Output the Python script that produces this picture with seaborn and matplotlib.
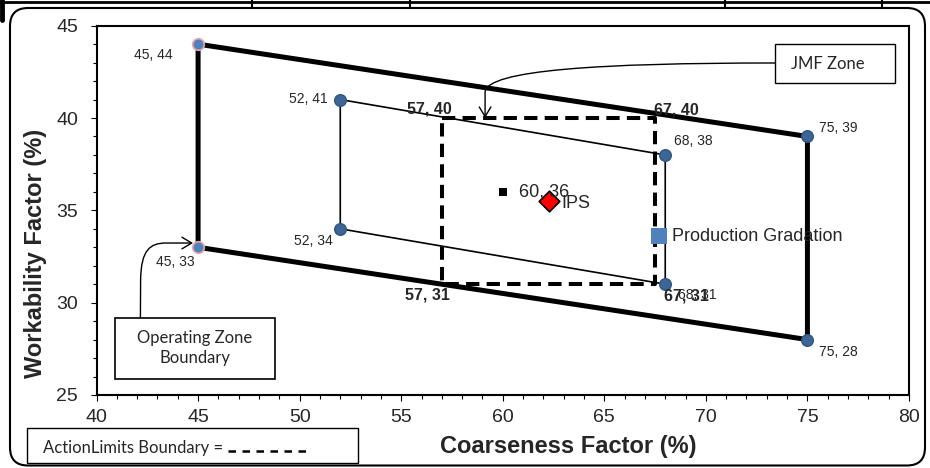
import matplotlib
matplotlib.use("Agg")
import matplotlib.pyplot as plt
from matplotlib.patches import FancyBboxPatch, Rectangle, FancyArrowPatch
from matplotlib.transforms import IdentityTransform
from matplotlib.lines import Line2D
from matplotlib.path import Path
from matplotlib.ticker import MultipleLocator
import pandas as pd
import seaborn as sns

# operating zone boundary (outer, thick)
op_x = [45, 75, 75, 45]
op_y = [44, 39, 28, 33]
# JMF zone (inner, thin)
jmf_x = [52, 68, 68, 52]
jmf_y = [41, 38, 31, 34]
# action limits boundary (dashed)
act_x = [57, 67.5, 67.5, 57]
act_y = [40, 40, 31, 31]
act_labels = ['57, 40', '67, 40', '67, 31', '57, 31']
# single points
target_x, target_y = [60], [36]
ips_x, ips_y = [62.3], [35.5]
prod_x, prod_y = [67.7], [33.6]

x_ticks = [40, 45, 50, 55, 60, 65, 70, 75, 80]
y_ticks = [25, 30, 35, 40, 45]

sns.set_style('white')
plt.rcParams['font.family'] = ['Liberation Sans', 'DejaVu Sans']
callout_font = ['Lato', 'DejaVu Sans']

fig = plt.figure(figsize=(9.3, 4.68), dpi=100)
ax = fig.add_axes([0.1038, 0.156, 0.8736, 0.7891])


def closed(xs, ys):
    return pd.DataFrame({'x': xs + xs[:1], 'y': ys + ys[:1]})


sns.lineplot(data=closed(op_x, op_y), x='x', y='y', sort=False, estimator=None,
             color='black', lw=3.6, ax=ax, zorder=2)
sns.lineplot(data=closed(jmf_x, jmf_y), x='x', y='y', sort=False, estimator=None,
             color='black', lw=1.2, ax=ax, zorder=2)
sns.lineplot(data=closed(act_x, act_y), x='x', y='y', sort=False, estimator=None,
             color='black', lw=2.9, ax=ax, zorder=3)
ax.lines[-1].set_dashes((3.3, 1.8))

# corner markers
sns.scatterplot(x=op_x[:1] + op_x[3:], y=op_y[:1] + op_y[3:], color='#4f81bd',
                edgecolor='#e6a8a8', linewidth=1.2, s=70, ax=ax, zorder=5)
sns.scatterplot(x=op_x[1:3], y=op_y[1:3], color='#3d6596', edgecolor='#2f5582',
                linewidth=1, s=70, ax=ax, zorder=5)
sns.scatterplot(x=jmf_x, y=jmf_y, color='#3d6596', edgecolor='#2f5582',
                linewidth=1, s=70, ax=ax, zorder=5)

sns.scatterplot(x=target_x, y=target_y, color='black', marker='s', s=28,
                linewidth=0, ax=ax, zorder=5)
sns.scatterplot(x=ips_x, y=ips_y, color='#ff0000', marker='D', s=110,
                edgecolor='black', linewidth=1.2, ax=ax, zorder=6)
sns.scatterplot(x=prod_x, y=prod_y, color='#4f81bd', marker='s', s=137,
                linewidth=0, ax=ax, zorder=6)

# point labels (offsets in pixels)
op_off = [(-45, -11), (31, 8), (31, -12), (-23, -15)]
jmf_off = [(-32, 1), (28, 14), (32, -11), (-27, -12)]
act_off = [(-12, 9), (21, 8), (31, -12), (-14, -11)]
for xs, ys, offs in [(op_x, op_y, op_off), (jmf_x, jmf_y, jmf_off)]:
    for x, y, off in zip(xs, ys, offs):
        ax.annotate(f'{x}, {y}', (x, y), xytext=off, textcoords='offset pixels',
                    ha='center', va='center', fontsize=10, zorder=7)
for x, y, lab, off in zip(act_x, act_y, act_labels, act_off):
    ax.annotate(lab, (x, y), xytext=off, textcoords='offset pixels',
                ha='center', va='center', fontsize=11.5, fontweight='bold', zorder=7)

ax.annotate(f'{target_x[0]}, {target_y[0]}', (target_x[0], target_y[0]), xytext=(16, 0),
            textcoords='offset pixels', ha='left', va='center', fontsize=13, zorder=7)
ax.annotate('IPS', (ips_x[0], ips_y[0]), xytext=(12, -2),
            textcoords='offset pixels', ha='left', va='center', fontsize=13, zorder=7)
ax.annotate('Production Gradation', (prod_x[0], prod_y[0]), xytext=(13, 0),
            textcoords='offset pixels', ha='left', va='center', fontsize=13, zorder=7)

# callout: JMF Zone
ax.add_patch(Rectangle((73.41, 41.88), 5.91, 2.13, facecolor='white',
                       edgecolor='black', lw=1, zorder=8))
ax.text(74.19, 42.9, 'JMF Zone', ha='left', va='center', fontsize=12,
        family=callout_font, zorder=9)
jmf_path = Path([(73.41, 42.98), (64.79, 42.98), (59.23, 42.6), (59.13, 41.41), (59.13, 40.0)],
                [Path.MOVETO, Path.CURVE4, Path.CURVE4, Path.CURVE4, Path.LINETO])
ax.add_patch(FancyArrowPatch(path=jmf_path, arrowstyle='->,head_length=0.5,head_width=0.3',
                             mutation_scale=14, lw=1, color='black', zorder=8))

# callout: Operating Zone Boundary
ax.add_patch(Rectangle((40.91, 25.86), 7.88, 3.33, facecolor='white',
                       edgecolor='black', lw=1.2, zorder=8))
ax.text(44.85, 27.53, 'Operating Zone\nBoundary', ha='center', va='center',
        fontsize=12, family=callout_font, linespacing=1.3, zorder=9)
op_path = Path([(42.16, 29.19), (42.17, 31.23), (42.19, 32.85), (42.63, 33.23), (43.42, 33.23),
                (44.75, 33.23)],
               [Path.MOVETO, Path.LINETO, Path.CURVE4, Path.CURVE4, Path.CURVE4, Path.LINETO])
ax.add_patch(FancyArrowPatch(path=op_path, arrowstyle='->,head_length=0.5,head_width=0.3',
                             mutation_scale=14, lw=1, color='black', zorder=8))

# axes styling
ax.set_xlim(40, 80)
ax.set_ylim(25, 45)
ax.set_xticks(x_ticks)
ax.set_yticks(y_ticks)
ax.xaxis.set_minor_locator(MultipleLocator(1))
ax.yaxis.set_minor_locator(MultipleLocator(1))
ax.tick_params(which='major', direction='out', length=4.3, width=0.8, labelsize=14, color='black')
ax.tick_params(which='minor', direction='out', length=2.9, width=0.8, color='black')
ax.tick_params(axis='x', which='major', pad=5.5)
ax.tick_params(axis='y', which='major', pad=9)
ax.tick_params(bottom=True, left=True, which='both')
for sp in ax.spines.values():
    sp.set_color('black')
    sp.set_linewidth(1.5)
ax.set_xlabel('Coarseness Factor (%)', fontsize=17, fontweight='bold')
ax.set_ylabel('Workability Factor (%)', fontsize=17, fontweight='bold')
ax.xaxis.set_label_coords(0.580, -0.108)
ax.yaxis.set_label_coords(-0.0605, 0.382)

# figure decorations: rounded chart frame, legend note box, top strip
fig.add_artist(FancyBboxPatch((10, 2.5), 915, 457.5, boxstyle='round,pad=0,rounding_size=18',
                              transform=IdentityTransform(), fill=False, ec='black', lw=1.5))
fig.add_artist(Rectangle((27 / 930, 4.7 / 468), 331 / 930, 35 / 468, transform=fig.transFigure,
                         facecolor='white', edgecolor='black', lw=1))
fig.text(43 / 930, 15 / 468, 'ActionLimits Boundary =', fontsize=12, family=callout_font,
         ha='left', va='baseline')
fig.add_artist(Line2D([228 / 930, 307 / 930], [17 / 468, 17 / 468], transform=fig.transFigure,
                      color='black', lw=1.8, dashes=(3.0, 2.6)))
fig.add_artist(Line2D([0, 930], [466.5, 466.5], transform=IdentityTransform(), color='black', lw=2))
for vx in [252, 410, 725, 882]:
    fig.add_artist(Line2D([vx, vx], [460, 468], transform=IdentityTransform(), color='black', lw=1.5))
fig.add_artist(Line2D([2, 2], [448, 468], transform=IdentityTransform(), color='black', lw=3.5))

fig.savefig('out.png', dpi=100)
